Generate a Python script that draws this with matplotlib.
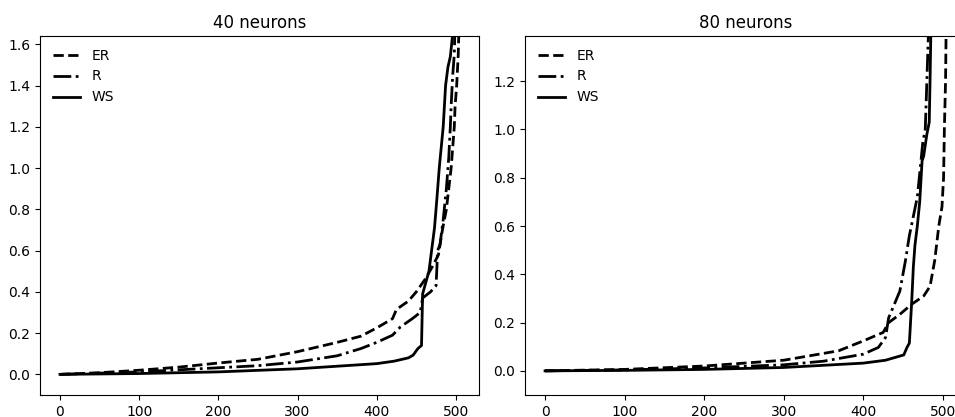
import matplotlib
matplotlib.use("Agg")
import matplotlib.pyplot as plt

# Values, key points along each sorted curve
# 40 neurons
er40_x = [0, 50, 100, 150, 200, 250, 300, 350, 380, 400, 420, 425, 440, 450, 461,
          470, 478, 483, 488, 491, 494, 496, 498, 499, 501, 503, 504, 504.5]
er40_y = [0, 0.008, 0.02, 0.035, 0.055, 0.073, 0.11, 0.155, 0.185, 0.225, 0.27, 0.315,
          0.355, 0.40, 0.46, 0.52, 0.58, 0.70, 0.80, 0.90, 1.0, 1.1, 1.2, 1.3, 1.4,
          1.55, 1.7, 2.0]
r40_x = [0, 100, 200, 250, 300, 350, 380, 400, 420, 430, 445, 455, 458, 468, 475,
         477, 480, 484, 488, 491, 493, 494, 496, 498, 499, 500]
r40_y = [0, 0.012, 0.032, 0.042, 0.06, 0.09, 0.125, 0.155, 0.19, 0.23, 0.27, 0.30,
         0.37, 0.40, 0.43, 0.60, 0.63, 0.75, 0.90, 1.05, 1.2, 1.3, 1.45, 1.55, 1.7, 2.0]
ws40_x = [0, 100, 200, 300, 400, 422, 440, 446, 452, 456.6, 458, 466, 470, 473, 476,
          479, 484, 487, 490, 493, 496, 497]
ws40_y = [0, 0.004, 0.012, 0.027, 0.052, 0.064, 0.08, 0.093, 0.125, 0.14, 0.39, 0.5,
          0.62, 0.71, 0.85, 1.0, 1.2, 1.4, 1.49, 1.54, 1.65, 2.0]

# 80 neurons
er80_x = [0, 100, 200, 300, 369, 400, 425, 432, 446, 461, 476, 484, 490, 495, 499,
          501, 502, 503.5, 504.5, 505]
er80_y = [0, 0.006, 0.02, 0.044, 0.083, 0.124, 0.159, 0.2, 0.234, 0.276, 0.31, 0.35,
          0.46, 0.6, 0.68, 0.8, 1.0, 1.2, 1.5, 2.0]
r80_x = [0, 100, 200, 300, 350, 400, 419, 428, 432, 446, 453, 458, 463, 468, 472,
         475, 478, 480, 482, 483]
r80_y = [0, 0.004, 0.012, 0.025, 0.04, 0.069, 0.097, 0.138, 0.22, 0.33, 0.455, 0.56,
         0.64, 0.72, 0.85, 0.95, 1.0, 1.2, 1.4, 2.0]
ws80_x = [0, 100, 200, 300, 400, 428, 451, 455, 458, 461, 463, 465, 468, 471, 474,
          476, 480, 483, 484, 485, 486]
ws80_y = [0, 0.002, 0.006, 0.014, 0.032, 0.044, 0.066, 0.097, 0.115, 0.29, 0.43, 0.52,
          0.6, 0.7, 0.87, 0.89, 0.98, 1.03, 1.2, 1.4, 2.0]

titles = ["40 neurons", "80 neurons"]
ylims = [(-0.1, 1.64), (-0.1, 1.387)]
series = [
    [(er40_x, er40_y), (r40_x, r40_y), (ws40_x, ws40_y)],
    [(er80_x, er80_y), (r80_x, r80_y), (ws80_x, ws80_y)],
]
labels = ["ER", "R", "WS"]
styles = ["--", "-.", "-"]

fig = plt.figure(figsize=(9.55, 4.17), dpi=100)
ax1 = fig.add_axes([40 / 955, 22 / 417, 439 / 955, 359 / 417])
ax2 = fig.add_axes([525 / 955, 22 / 417, 441 / 955, 359 / 417])

for ax, title, ylim, data in zip([ax1, ax2], titles, ylims, series):
    for (x, y), lab, ls in zip(data, labels, styles):
        ax.plot(x, y, ls, color="black", linewidth=2, label=lab)
    ax.set_xlim(-25.2, 529.2)
    ax.set_ylim(*ylim)
    ax.set_xticks([0, 100, 200, 300, 400, 500])
    ax.set_title(title, fontsize=12)
    ax.legend(loc="upper left", frameon=False, fontsize=10)

fig.savefig("out.png", dpi=100)
